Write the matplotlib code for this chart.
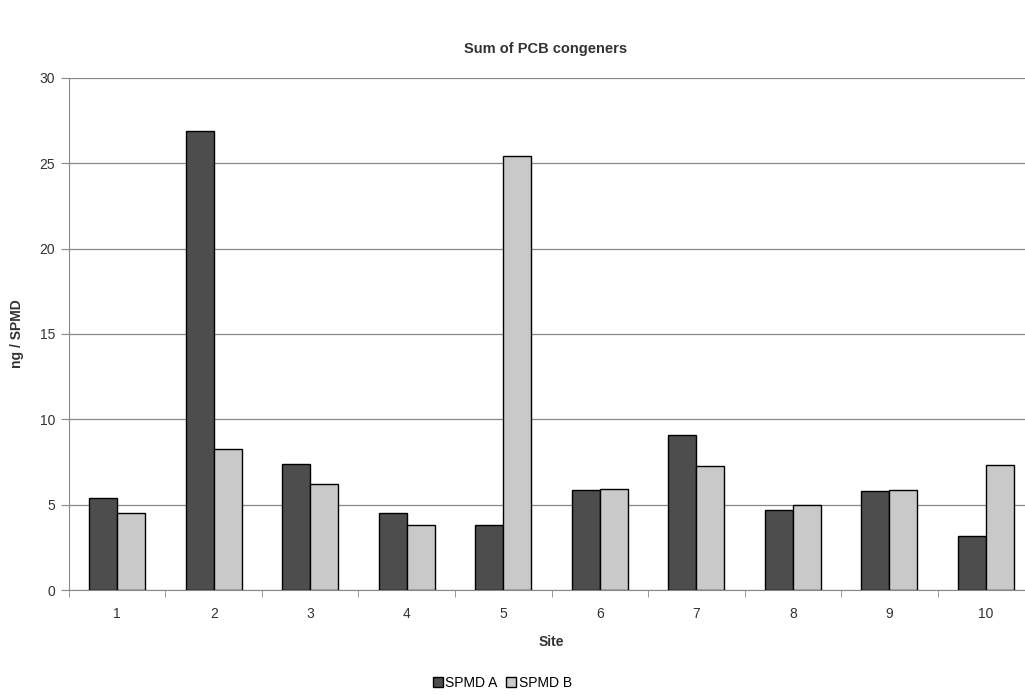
import numpy as np
import matplotlib.pyplot as plt

plt.rcParams['font.family'] = ['Liberation Sans', 'DejaVu Sans']

# Data
sites = ['1', '2', '3', '4', '5', '6', '7', '8', '9', '10']
spmd_a = [5.4, 26.9, 7.4, 4.5, 3.8, 5.85, 9.1, 4.7, 5.8, 3.15]
spmd_b = [4.5, 8.25, 6.2, 3.8, 25.4, 5.9, 7.25, 5.0, 5.85, 7.3]

fig = plt.figure(figsize=(10.25, 6.95), dpi=100)
# plot area runs slightly past the right edge, as in the scan
ax = fig.add_axes([0.0673, 0.151, 0.9415, 0.737])

x = np.arange(len(sites))
w = 0.29
ax.bar(x - w / 2, spmd_a, w, color='#4d4d4d', edgecolor='black', linewidth=1, label='SPMD A', zorder=3)
ax.bar(x + w / 2, spmd_b, w, color='#c9c9c9', edgecolor='black', linewidth=1, label='SPMD B', zorder=3)

ax.set_xlim(-0.5, len(sites) - 0.5)
ax.set_ylim(0, 30)
ax.set_yticks(range(0, 31, 5))
ax.yaxis.grid(True, color='#888888', linewidth=0.9, zorder=0)

# category labels at centers, tick marks at boundaries
ax.set_xticks(x)
ax.set_xticklabels(sites, fontsize=10, color='#333333')
ax.tick_params(axis='x', length=0, pad=12)
ax.set_xticks(np.arange(-0.5, len(sites)), minor=True)
ax.tick_params(axis='x', which='minor', length=5, color='#888888', direction='out')
ax.tick_params(axis='y', length=6, color='#888888', labelsize=10, labelcolor='#333333', pad=4)

for s in ['top', 'right']:
    ax.spines[s].set_visible(False)
ax.spines['left'].set_color('#888888')
ax.spines['bottom'].set_color('#888888')

ax.set_xlabel('Site', fontsize=10, fontweight='bold', color='#333333', labelpad=10)
ax.set_ylabel('ng / SPMD', fontsize=10, fontweight='bold', color='#333333')
ax.yaxis.set_label_coords(-0.047, 0.5)
fig.suptitle('Sum of PCB congeners', x=0.532, y=0.94, fontsize=10.5, fontweight='bold', color='#333333')

fig.legend(loc='center', bbox_to_anchor=(0.49, 0.017), ncol=2, frameon=False, fontsize=10,
           handlelength=0.7, handleheight=0.7, handletextpad=0.2, columnspacing=0.6)

fig.savefig('out.png', dpi=100)
